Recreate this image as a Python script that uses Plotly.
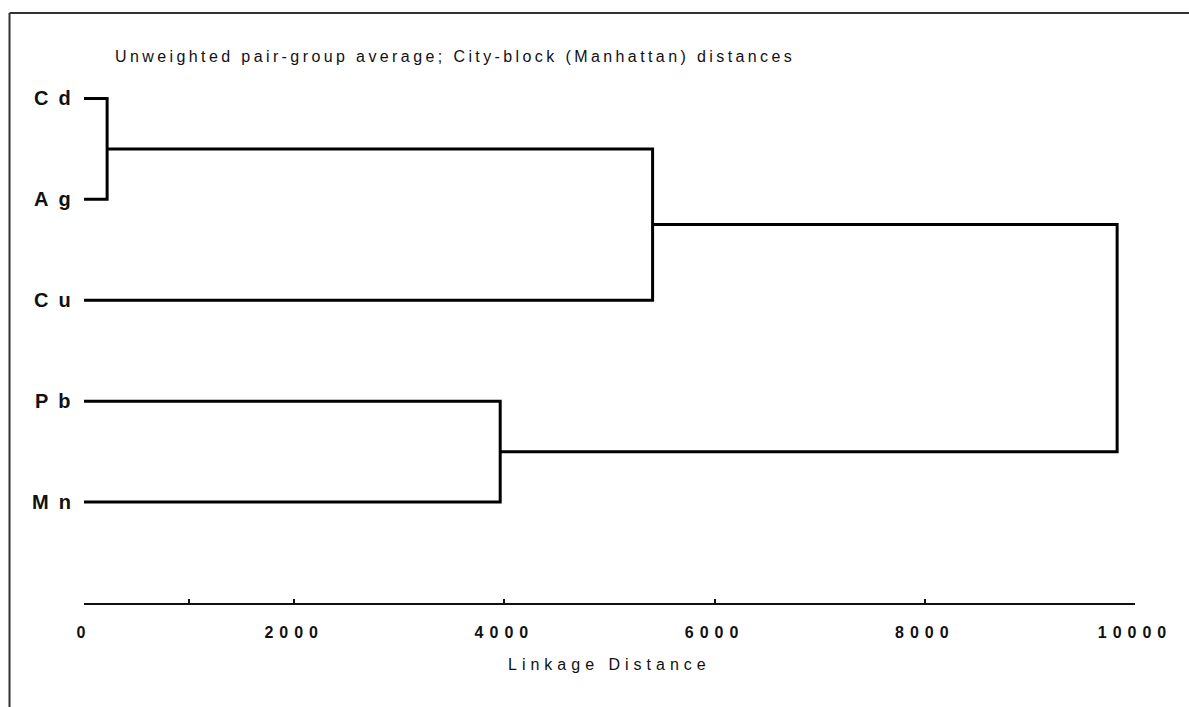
import plotly.graph_objects as go

# ---- data ----
leaves = ["Cd", "Ag", "Cu", "Pb", "Mn"]
merge_a = ["Cd", "Cd+Ag", "Pb", "Cd+Ag+Cu"]
merge_b = ["Ag", "Cu", "Mn", "Pb+Mn"]
merge_dist = [220, 5410, 3960, 9830]

tick_vals = [0, 1000, 2000, 4000, 6000, 8000, 10000]
tick_text = ["0", "", "2000", "4000", "6000", "8000", "10000"]

title_text = "Unweighted pair-group average; City-block (Manhattan) distances"
x_title = "Linkage Distance"

FONT = "Liberation Sans, Arial, sans-serif"
INK = "#111111"


def spaced(s, px):
    return f'<span style="letter-spacing:{px}px">{s}</span>'


# ---- build dendrogram segments from the merge table ----
pos = {name: i + 1 for i, name in enumerate(leaves)}
height = {name: 0.0 for name in leaves}
xs, ys = [], []
for a, b, d in zip(merge_a, merge_b, merge_dist):
    ya, yb = pos[a], pos[b]
    xs += [height[a], d, d, height[b], None]
    ys += [ya, ya, yb, yb, None]
    new = a + "+" + b
    pos[new] = (ya + yb) / 2
    height[new] = d

fig = go.Figure()
fig.add_trace(go.Scatter(x=xs, y=ys, mode="lines",
                         line=dict(color="black", width=3),
                         hoverinfo="skip", showlegend=False))

W, H = 1189, 707
L, T = 84, 48
R = W - 1135
B = H - 603
pw, ph = W - L - R, H - T - B


def px_x(p):
    return (p - L) / pw


def px_y(p):
    return (H - B - p) / ph


annotations = []
for name in leaves:
    annotations.append(dict(x=0, xref="x", y=pos[name], yref="y",
                            text="<b>" + spaced(name, 10) + "</b>",
                            showarrow=False, xanchor="right", yanchor="middle",
                            xshift=-1,
                            font=dict(family=FONT, size=20, color=INK)))
annotations.append(dict(x=px_x(113), xref="paper", y=px_y(57), yref="paper",
                        text=spaced(title_text, 3.4), showarrow=False,
                        xanchor="left", yanchor="middle",
                        font=dict(family=FONT, size=16, color=INK)))
annotations.append(dict(x=0.5, xref="paper", y=px_y(664), yref="paper",
                        text=spaced(x_title, 5), showarrow=False,
                        xanchor="center", yanchor="middle",
                        font=dict(family=FONT, size=16, color=INK)))

shapes = [
    dict(type="line", xref="paper", yref="paper",
         x0=px_x(9.5), x1=px_x(9.5), y0=px_y(13), y1=px_y(760),
         line=dict(color="#333333", width=2)),
    dict(type="line", xref="paper", yref="paper",
         x0=px_x(9.5), x1=px_x(1250), y0=px_y(13), y1=px_y(13),
         line=dict(color="#333333", width=2)),
]

fig.update_layout(
    width=W, height=H,
    margin=dict(l=L, r=R, t=T, b=B),
    paper_bgcolor="white", plot_bgcolor="white",
    annotations=annotations, shapes=shapes,
    font=dict(family=FONT, color=INK),
)
fig.update_xaxes(range=[0, 10000], showgrid=False, zeroline=False,
                 showline=True, linecolor=INK, linewidth=2,
                 ticks="inside", ticklen=4, tickwidth=1.5, tickcolor=INK,
                 tickvals=tick_vals,
                 ticktext=["<b>" + spaced(t, 6) + "</b>" if t else "" for t in tick_text],
                 ticklabelstandoff=14,
                 tickfont=dict(family=FONT, size=16, color=INK))
fig.update_yaxes(range=[6, 0.5], showgrid=False, zeroline=False,
                 showline=False, showticklabels=False, ticks="")

fig.write_html("out.html", config={"displayModeBar": False},
               post_script="document.body.style.margin='0';document.body.style.overflow='hidden';")
